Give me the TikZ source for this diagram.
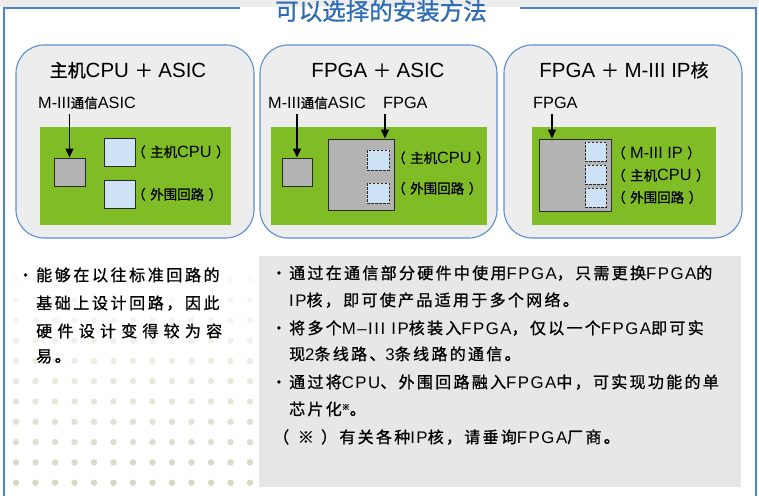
\documentclass[tikz,border=0pt]{standalone}
\usepackage{fontspec}
\setmainfont{Liberation Sans}
\newfontfamily\latf{Liberation Sans}
\newfontfamily\cjkf[FakeBold=1]{Noto Sans CJK SC}
\usetikzlibrary{arrows.meta}
% --- automatic switch between Latin and CJK fonts ---
\newXeTeXintercharclass\zhcls
\newcount\zhc
\def\zhrange#1#2{\zhc=#1\relax\loop\XeTeXcharclass\zhc=\zhcls\relax\ifnum\zhc<#2\relax\advance\zhc by 1\relax\repeat}
\zhrange{"3000}{"30FF}
\zhrange{"4E00}{"9FFF}
\zhrange{"FF00}{"FFEF}
\XeTeXcharclass"203B=\zhcls
\def\ensz{10}\def\zhsz{10}\def\lsen{0}\def\lszh{0}
% #1 latin size, #2 cjk size, #3 latin letter spacing, #4 cjk letter spacing (percent of size)
\newcommand\setsz[4]{\def\ensz{#1}\def\zhsz{#2}\def\lsen{#3}\def\lszh{#4}\fontsize{#1}{#1}\latf\addfontfeature{LetterSpace=#3}\relax}
\newcommand\zhon{\fontsize{\zhsz}{\zhsz}\cjkf\addfontfeature{LetterSpace=\lszh}\relax}
\newcommand\enon{\fontsize{\ensz}{\ensz}\latf\addfontfeature{LetterSpace=\lsen}\relax}
\XeTeXinterchartoks 0 \zhcls = {\zhon}
\XeTeXinterchartoks 4095 \zhcls = {\zhon}
\XeTeXinterchartoks \zhcls 0 = {\enon}
\XeTeXinterchartoks \zhcls 4095 = {\enon}
\XeTeXinterchartokenstate=1
% --- colours ---
\definecolor{bandgray}{HTML}{ECECEC}
\definecolor{frameblue}{HTML}{4B85C7}
\definecolor{titleblue}{HTML}{2D6DB5}
\definecolor{panelblue}{HTML}{5A8FCF}
\definecolor{panelgray}{HTML}{EDEDED}
\definecolor{boardgreen}{HTML}{80BC26}
\definecolor{chipgray}{HTML}{B3B3B3}
\definecolor{chipline}{HTML}{2A2A2A}
\definecolor{blkblue}{HTML}{CDE2F4}
\definecolor{notegray}{HTML}{E7E7E7}
\definecolor{dotc}{HTML}{D5D8C3}
\begin{document}
\begin{tikzpicture}[x=1pt,y=-1pt,
  panel/.style={draw=panelblue,fill=panelgray,line width=1.1pt,rounded corners=28pt,inner sep=0pt,minimum height=193pt},
  board/.style={fill=boardgreen,inner sep=0pt,minimum height=98pt},
  chip/.style={draw=chipline,fill=chipgray,line width=1pt,inner sep=0pt},
  blk/.style={draw=chipline,fill=blkblue,line width=1pt,inner sep=0pt,minimum width=31pt,minimum height=28pt},
  ipblk/.style={draw=chipline,fill=blkblue,dash pattern=on 2.5pt off 1.5pt,line width=0.9pt,inner sep=0pt},
  ptitle/.style={inner sep=0pt,anchor=base,font=\setsz{20.5}{18}{0}{0}},
  lbl/.style={inner sep=0pt,anchor=base west,font=\setsz{16.3}{13.5}{0}{0}},
  body/.style={inner sep=0pt,anchor=base west,font=\setsz{16.8}{16}{9}{14.4}},
  lbody/.style={inner sep=0pt,anchor=base west,font=\setsz{16.8}{16}{8}{16.25}},
  arr/.style={-{Triangle[length=9pt,width=8pt]},line width=1.5pt},
  frame/.style={draw=frameblue,line width=1.6pt}
]
\useasboundingbox (0,0) rectangle (759,495);
\fill[white] (0,0) rectangle (759,495);
\fill[bandgray] (0,0) rectangle (759,7.5);
% outer frame
\draw[frame] (240,8) -- (4,8) -- (4,496);
\draw[frame] (520,8) -- (756,8) -- (756,496);
\node[inner sep=0pt,text=titleblue,font=\setsz{23.5}{23.5}{0}{0}] (title) at (381,11) {可以选择的安装方法};

% dotted background
\foreach \j in {0,...,10}{
  \pgfmathsetmacro\op{max(0,1-0.09*\j)}
  \foreach \i in {0,...,12}{
    \fill[dotc,opacity=\op] (16+19.5*\i,482.7-20.3*\j) circle (3.2pt);
  }
}

% ---------- panel 1 ----------
\node[panel,minimum width=238pt] (p1) at (135,141.5) {};
\node[ptitle] (t1) at (128,77) {主机CPU ＋ ASIC};
\node[board,minimum width=191pt] (g1) at (135.5,176) {};
\node[chip,minimum width=31pt,minimum height=28pt] (asic1) at (69.5,172) {};
\node[blk] (cpu1) at (119.5,152) {};
\node[blk] (per1) at (119.5,194.5) {};
\node[lbl] (la1) at (38,108) {M-III通信ASIC};
\node[lbl] (lc1) at (132,157) {（\hspace{4.5pt}主机CPU\hspace{4.5pt}）};
\node[lbl] (lp1) at (132,199.5) {（\hspace{4.5pt}外围回路\hspace{4.5pt}）};
\coordinate (a1) at (69.5,114);
\draw[arr] (a1) -- (asic1.north);

% ---------- panel 2 ----------
\node[panel,minimum width=237pt] (p2) at (378.5,141.5) {};
\node[ptitle] (t2) at (378,77) {FPGA ＋ ASIC};
\node[board,minimum width=216pt] (g2) at (379,176) {};
\node[chip,minimum width=30pt,minimum height=28pt] (asic2) at (297,172) {};
\node[chip,minimum width=66pt,minimum height=71pt] (fpga2) at (361,174.5) {};
\node[ipblk,minimum width=22pt,minimum height=20pt] (cpu2) at (378,160) {};
\node[ipblk,minimum width=22pt,minimum height=20pt] (per2) at (378,193) {};
\node[lbl] (la2) at (268,108) {M-III通信ASIC};
\node[lbl] (lf2) at (383,108) {FPGA};
\node[lbl] (lc2) at (392,163) {（\hspace{4.5pt}主机CPU\hspace{4.5pt}）};
\node[lbl] (lp2) at (392,193.5) {（\hspace{4.5pt}外围回路\hspace{4.5pt}）};
\coordinate (a2) at (297,114);
\draw[arr] (a2) -- (asic2.north);
\coordinate (f2) at (385,114);
\draw[arr] (f2) -- (f2 |- fpga2.north);

% ---------- panel 3 ----------
\node[panel,minimum width=238pt] (p3) at (623,141.5) {};
\node[ptitle] (t3) at (624,77) {FPGA ＋ M-III IP核};
\node[board,minimum width=184pt] (g3) at (624,176) {};
\node[chip,minimum width=72pt,minimum height=72pt] (fpga3) at (575,175) {};
\node[ipblk,minimum width=21pt,minimum height=19pt] (ip3) at (595.5,151.5) {};
\node[ipblk,minimum width=21pt,minimum height=19pt] (cpu3) at (595.5,174.5) {};
\node[ipblk,minimum width=21pt,minimum height=19pt] (per3) at (595.5,197.5) {};
\node[lbl] (lf3) at (533,108) {FPGA};
\node[lbl] (li3) at (612,158) {（\hspace{4.5pt}M-III IP\hspace{4.5pt}）};
\node[lbl] (lc3) at (612,180.5) {（\hspace{4.5pt}主机CPU\hspace{4.5pt}）};
\node[lbl] (lp3) at (612,202.5) {（\hspace{4.5pt}外围回路\hspace{4.5pt}）};
\coordinate (f3) at (552,114);
\draw[arr] (f3) -- (f3 |- fpga3.north);

% ---------- left notes ----------
\node[lbody] (l1) at (17.4,281) {・能够在以往标准回路的};
\node[lbody] (l2) at (36,309) {基础上设计回路，因此};
\node[inner sep=0pt,anchor=base west,font=\setsz{16.8}{16}{0}{32.8}] (l3) at (36,337) {硬件设计变得较为容};
\node[lbody] (l4) at (36,362) {易。};

% ---------- right notes ----------
\node[fill=notegray,minimum width=482pt,minimum height=231pt,inner sep=0pt] (note) at (500,371.5) {};
\node[body] (r1) at (270.7,279) {・通过在通信部分硬件中使用FPGA，只需更换FPGA的};
\node[body] (r2) at (289,306) {IP核，即可使产品适用于多个网络。};
\node[body] (r3) at (270.7,334) {・将多个M–III IP核装入FPGA，仅以一个FPGA即可实};
\node[body] (r4) at (289,360) {现2条线路、3条线路的通信。};
\node[body] (r5) at (270.7,388) {・通过将CPU、外围回路融入FPGA中，可实现功能的单};
\node[body] (r6) at (289,415) {芯片化\raisebox{5pt}{\setsz{8}{8}{0}{0}※}。};
\node[body] (r7) at (273,443) {（\hspace{8.7pt}※\hspace{7.2pt}）有关各种IP核，请垂询FPGA厂商。};
\end{tikzpicture}
\end{document}
